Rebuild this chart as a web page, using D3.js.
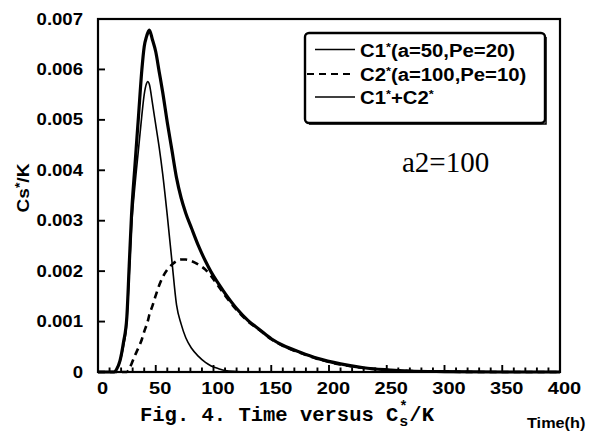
<!DOCTYPE html>
<html><head><meta charset="utf-8">
<script src="https://cdn.jsdelivr.net/npm/d3@7"></script>
<style>html,body{margin:0;padding:0;background:#fff;} svg{display:block;}</style>
</head><body><svg id="c" width="589" height="434"></svg>
<script>
// ---- data ----
const timeH = [0,10,14,16,19,22,25,27,29,32,35,38,40,42,43,44.5,47,50,53,56,60,64,68,72,76,81,87,93,98,104,110,120,130,140,150,160,175,190,210,230,250,270,300,350,400];
const c1Vals = [0,0,0,0.00005,0.0002,0.0005,0.0010,0.0019,0.00285,0.0037,
  0.0044,0.0051,0.0055,0.00572,0.00576,0.0057,0.00535,0.0049,0.00445,0.00393,
  0.0031,0.0022,0.00133,0.00095,0.00068,0.00047,0.00031,0.00019,0.00012,0.00007,
  0.00003,0.00001,0,0,0,0,0,0,0,0,0,0,0,0,0];
const c2Vals = [0,0,0,0,0,0,0,0.00006,0.00016,0.00033,
  0.00048,0.00065,0.0008,0.00093,0.0010,0.00114,0.0013,0.00152,0.00172,0.00188,
  0.00203,0.00213,0.0022,0.00223,0.00223,0.0022,0.00213,0.00203,0.0019,0.00171,
  0.00152,0.00123,0.0010,0.00083,0.00065,0.00052,0.00038,0.00026,0.00015,0.00008,
  0.00004,0.00002,0.000005,0,0];
const sumVals = [0,0,0,0.00005,0.00022,0.00058,0.0011,0.0021,0.0031,0.0041,
  0.00505,0.0060,0.00645,0.00665,0.00672,0.00678,0.0066,0.00635,0.00595,0.00555,
  0.00495,0.0044,0.00385,0.00345,0.00315,0.00285,0.0025,0.0022,0.00198,0.00176,
  0.00156,0.00126,0.00102,0.00084,0.00066,0.00053,0.00039,0.00027,0.00016,0.000085,
  0.000045,0.00002,0.000008,0,0];
const xTicks = [0,50,100,150,200,250,300,350,400];
const xMinorTicks = d3.range(10, 400, 10).filter(v => v % 50 !== 0);
const yTicks = [0,0.001,0.002,0.003,0.004,0.005,0.006,0.007];
const yTickLabels = ["0","0.001","0.002","0.003","0.004","0.005","0.006","0.007"];
const legendNames = [["C1","(a=50,Pe=20)"],["C2","(a=100,Pe=10)"],["C1","+C2"]];
const yTitle = "Cs";
const xTitle = "Time(h)";
const annotation = "a2=100";
const caption = "Fig. 4. Time versus C";

// ---- layout ----
const svg = d3.select("#c");
const L = 98, R = 560, T = 19, B = 372;
const x = d3.scaleLinear().domain([0,400]).range([L,R]);
const y = d3.scaleLinear().domain([0,0.007]).range([B,T]);
const SX = 1.16;
const sans = "'Liberation Sans', Arial, sans-serif";

// curves
const series = [
  {vals: c1Vals, w: 1.6, dash: null},
  {vals: c2Vals, w: 2.6, dash: "7,5"},
  {vals: sumVals, w: 3.2, dash: null}
];
const line = d3.line().x((d,i)=>x(timeH[i])).y(d=>y(d)).curve(d3.curveMonotoneX);
series.forEach(s=>{
  svg.append("path").attr("d", line(s.vals)).attr("fill","none")
    .attr("stroke","#000").attr("stroke-width", s.w)
    .attr("stroke-dasharray", s.dash).attr("stroke-linejoin","round");
});

// frame
svg.append("rect").attr("x",L).attr("y",T).attr("width",R-L).attr("height",B-T)
  .attr("fill","none").attr("stroke","#000").attr("stroke-width",2.2);

// ticks (drawn inward)
svg.append("g").selectAll("line").data(xMinorTicks).join("line")
  .attr("x1",d=>x(d)).attr("x2",d=>x(d)).attr("y1",B).attr("y2",B-4.5)
  .attr("stroke","#000").attr("stroke-width",1.9);
svg.append("g").selectAll("line").data(xTicks).join("line")
  .attr("x1",d=>x(d)).attr("x2",d=>x(d)).attr("y1",B).attr("y2",B-7)
  .attr("stroke","#000").attr("stroke-width",1.9);
svg.append("g").selectAll("line").data(yTicks).join("line")
  .attr("x1",L).attr("x2",L+7).attr("y1",d=>y(d)).attr("y2",d=>y(d))
  .attr("stroke","#000").attr("stroke-width",1.9);

// tick labels via axes (no tick lines)
const gx = svg.append("g").attr("transform",`translate(0,${B})`)
  .call(d3.axisBottom(x).tickValues(xTicks).tickSize(0).tickPadding(11));
gx.select(".domain").remove();
gx.selectAll("text").attr("font-family",sans).attr("font-weight","bold")
  .attr("font-size",16).attr("fill","#000")
  .attr("transform",`translate(4,0) scale(1.25,1)`);

const gy = svg.append("g").attr("transform",`translate(${L},0)`)
  .call(d3.axisLeft(y).tickValues(yTicks).tickSize(0).tickFormat((d,i)=>yTickLabels[i]));
gy.select(".domain").remove();
gy.selectAll("text").attr("font-family",sans).attr("font-weight","bold")
  .attr("font-size",16).attr("fill","#000").attr("x",0)
  .attr("transform",`translate(-15,0) scale(${SX},1)`);

// y title
const yt = svg.append("text").attr("transform",`translate(29,188) rotate(-90) scale(${SX},1)`)
  .attr("text-anchor","middle").attr("font-family",sans).attr("font-weight","bold")
  .attr("font-size",16.5).attr("fill","#000");
yt.append("tspan").text(yTitle);
yt.append("tspan").attr("font-size",12).attr("dy",-5).text("*");
yt.append("tspan").attr("dy",5).text("/K");

// x title
svg.append("text").attr("transform",`translate(527,428) scale(${SX},1)`)
  .attr("font-family",sans).attr("font-weight","bold").attr("font-size",14)
  .attr("fill","#000").text(xTitle);

// legend
const lg = svg.append("g");
lg.append("rect").attr("x",305).attr("y",33).attr("width",240).attr("height",90)
  .attr("rx",4).attr("fill","#fff").attr("stroke","#000").attr("stroke-width",2.4);
lg.append("path").attr("d","M546,37 L546,124 L309,124").attr("fill","none")
  .attr("stroke","#000").attr("stroke-width",1.5);
const rowsY = [56.5, 81, 104];
const legLine = [{x0:315,w:1.6,dash:null},{x0:307,w:2.2,dash:"7,5"},{x0:315,w:1.6,dash:null}];
legendNames.forEach((nm,i)=>{
  lg.append("line").attr("x1",legLine[i].x0).attr("x2",355)
    .attr("y1",rowsY[i]-7).attr("y2",rowsY[i]-7)
    .attr("stroke","#000").attr("stroke-width",legLine[i].w).attr("stroke-dasharray",legLine[i].dash);
  const t = lg.append("text").attr("transform",`translate(360,${rowsY[i]}) scale(${SX},1)`)
    .attr("font-family",sans).attr("font-weight","bold").attr("font-size",17.5).attr("fill","#000");
  t.append("tspan").text(nm[0]);
  t.append("tspan").attr("font-size",11).attr("dy",-6).text("*");
  t.append("tspan").attr("dy",6).text(nm[1]);
  if (i===2) { t.append("tspan").attr("font-size",11).attr("dy",-6).text("*"); }
});

// annotation
svg.append("text").attr("x",402).attr("y",172).attr("font-family","'Liberation Serif', 'Times New Roman', serif")
  .attr("font-size",29).attr("fill","#000").text(annotation);

// caption
const mono = "'Liberation Mono', 'Courier New', monospace";
const cap = svg.append("text").attr("x",140).attr("y",421).attr("font-family",mono)
  .attr("font-weight","bold").attr("font-size",20.5).attr("fill","#000").text(caption);
const cw = cap.node().getComputedTextLength();
svg.append("text").attr("x",140+cw+1).attr("y",411).attr("font-family",mono)
  .attr("font-weight","bold").attr("font-size",14).attr("fill","#000").text("*");
svg.append("text").attr("x",140+cw+1).attr("y",426).attr("font-family",mono)
  .attr("font-weight","bold").attr("font-size",15).attr("fill","#000").text("s");
svg.append("text").attr("x",140+cw+11).attr("y",421).attr("font-family",mono)
  .attr("font-weight","bold").attr("font-size",20.5).attr("fill","#000").text("/K");
</script>
</body></html>
